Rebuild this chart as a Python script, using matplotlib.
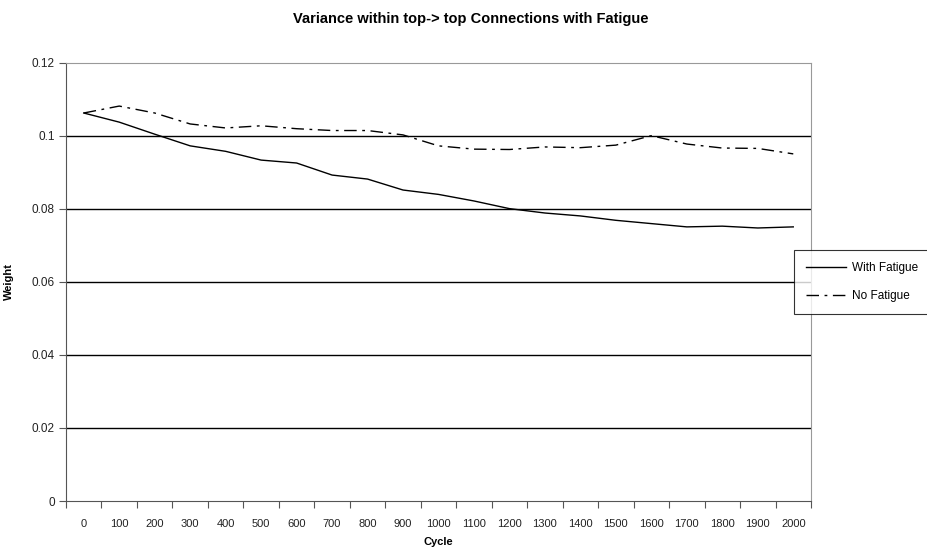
import matplotlib.pyplot as plt
import numpy as np

plt.rcParams['font.family'] = ['Liberation Sans', 'DejaVu Sans']

# datos
cycles = ['0', '100', '200', '300', '400', '500', '600', '700', '800', '900', '1000',
          '1100', '1200', '1300', '1400', '1500', '1600', '1700', '1800', '1900', '2000']
with_fatigue = [0.1063, 0.1038, 0.1005, 0.0973, 0.0958, 0.0934, 0.0926, 0.0893, 0.0882,
                0.0852, 0.0840, 0.0822, 0.0801, 0.0789, 0.0781, 0.0769, 0.0760, 0.0751,
                0.0753, 0.0748, 0.0751]
no_fatigue = [0.1063, 0.1082, 0.1063, 0.1033, 0.1022, 0.1028, 0.1020, 0.1015, 0.1015,
              0.1003, 0.0973, 0.0964, 0.0963, 0.0970, 0.0968, 0.0975, 0.1001, 0.0978,
              0.0967, 0.0966, 0.0951]
yticks = [0, 0.02, 0.04, 0.06, 0.08, 0.1, 0.12]
ytick_labels = ['0', '0.02', '0.04', '0.06', '0.08', '0.1', '0.12']

fig = plt.figure(figsize=(9.28, 5.54), dpi=100)
ax = fig.add_axes([66/928, 1 - 501/554, (811-66)/928, (501-63)/554])

x = np.arange(len(cycles))
ax.plot(x, with_fatigue, color='black', lw=1.0, label='With Fatigue')
ax.plot(x, no_fatigue, color='black', lw=1.0, linestyle=(0, (9, 4, 2, 4)), label='No Fatigue')

# lineas horizontales
for v in yticks[1:-1]:
    ax.axhline(v, color='black', lw=1.0, zorder=0)

ax.set_ylim(0, 0.12)
ax.set_yticks(yticks)
ax.set_yticklabels(ytick_labels)
ax.set_xlim(-0.5, len(cycles) - 0.5)
ax.set_xticks(np.arange(-0.5, len(cycles), 1.0))
ax.set_xticklabels([])
ax.set_xticks(x, minor=True)
ax.set_xticklabels(cycles, minor=True)
ax.tick_params(axis='x', which='minor', length=0, pad=13, labelsize=8, labelcolor='#222222')
ax.tick_params(axis='x', which='major', length=5, color='#555555')
ax.tick_params(axis='y', length=5, color='#555555', labelsize=8.5, labelcolor='#222222', pad=3)

for s in ['left', 'bottom']:
    ax.spines[s].set_color('#555555')
for s in ['top', 'right']:
    ax.spines[s].set_color('#999999')

ax.set_xlabel('Cycle', fontsize=8, fontweight='bold', labelpad=6)
ax.set_ylabel('Weight', fontsize=8, fontweight='bold')
ax.yaxis.set_label_coords((14 - 66) / 745, 0.5)
fig.suptitle('Variance within top-> top Connections with Fatigue', fontsize=10.5,
             fontweight='bold', x=0.507, y=0.978)

leg = fig.legend(loc='upper left', bbox_to_anchor=(794/928, 1 - 250/554), fontsize=8.5,
                 frameon=True, fancybox=False, edgecolor='black', handlelength=3.4,
                 borderaxespad=0, labelspacing=1.4, borderpad=1.0, handletextpad=0.5)
leg.get_frame().set_linewidth(0.8)

plt.savefig('out.png', dpi=100)
